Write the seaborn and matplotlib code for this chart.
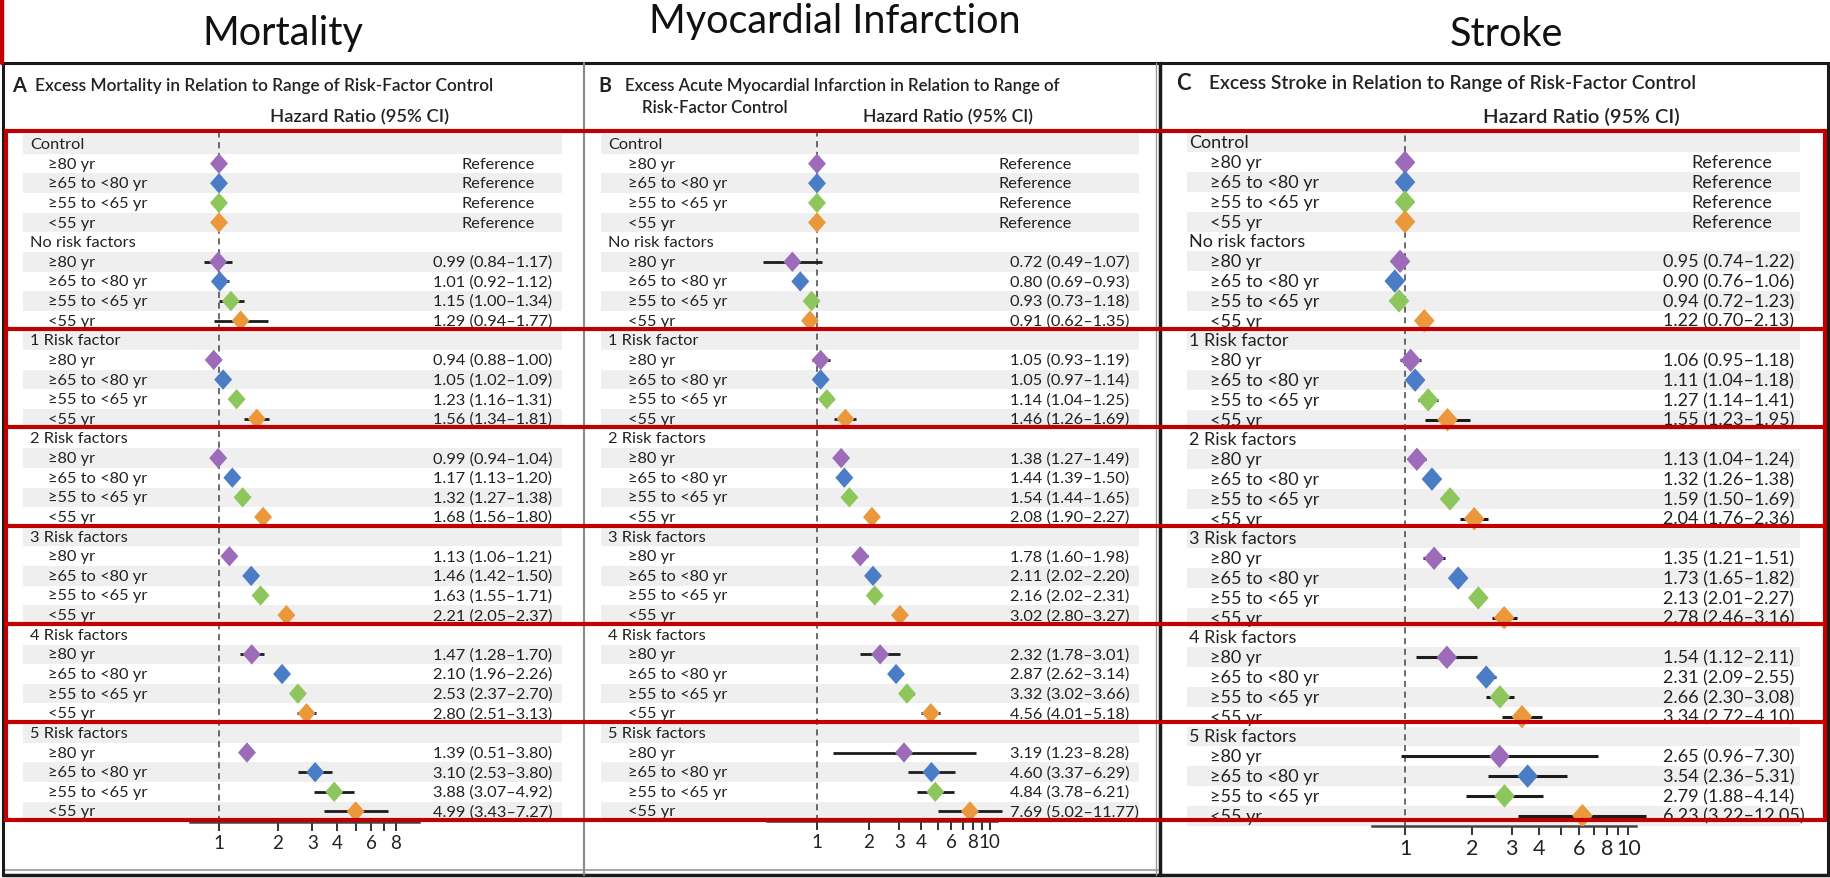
import numpy as np
import pandas as pd
import matplotlib
matplotlib.use("Agg")
import matplotlib.pyplot as plt
from matplotlib.patches import Rectangle
from matplotlib.path import Path
from matplotlib.ticker import FixedLocator, FixedFormatter, NullLocator
import seaborn as sns

sns.set_theme(style="white")
plt.rcParams["font.family"] = ["Lato", "DejaVu Sans"]

# ---------------- data ----------------
groups = ["Control", "No risk factors", "1 Risk factor", "2 Risk factors",
          "3 Risk factors", "4 Risk factors", "5 Risk factors"]
ages = ["≥80 yr", "≥65 to <80 yr", "≥55 to <65 yr", "<55 yr"]
age_colors = ["#9c6bb9", "#4b7dc6", "#8dc65b", "#eb983d"]

panel_titles = ["Mortality", "Myocardial Infarction", "Stroke"]
panel_letters = ["A", "B", "C"]
panel_headers = [["Excess Mortality in Relation to Range of Risk-Factor Control"],
                 ["Excess Acute Myocardial Infarction in Relation to Range of", "Risk-Factor Control"],
                 ["Excess Stroke in Relation to Range of Risk-Factor Control"]]
hr_header = "Hazard Ratio (95% CI)"
reference_label = "Reference"

# rows: No risk factors, 1..5 risk factors ; columns: ages
mort_hr = [[0.99, 1.01, 1.15, 1.29], [0.94, 1.05, 1.23, 1.56], [0.99, 1.17, 1.32, 1.68],
           [1.13, 1.46, 1.63, 2.21], [1.47, 2.10, 2.53, 2.80], [1.39, 3.10, 3.88, 4.99]]
mort_lo = [[0.84, 0.92, 1.00, 0.94], [0.88, 1.02, 1.16, 1.34], [0.94, 1.13, 1.27, 1.56],
           [1.06, 1.42, 1.55, 2.05], [1.28, 1.96, 2.37, 2.51], [0.51, 2.53, 3.07, 3.43]]
mort_hi = [[1.17, 1.12, 1.34, 1.77], [1.00, 1.09, 1.31, 1.81], [1.04, 1.20, 1.38, 1.80],
           [1.21, 1.50, 1.71, 2.37], [1.70, 2.26, 2.70, 3.13], [3.80, 3.80, 4.92, 7.27]]

mi_hr = [[0.72, 0.80, 0.93, 0.91], [1.05, 1.05, 1.14, 1.46], [1.38, 1.44, 1.54, 2.08],
         [1.78, 2.11, 2.16, 3.02], [2.32, 2.87, 3.32, 4.56], [3.19, 4.60, 4.84, 7.69]]
mi_lo = [[0.49, 0.69, 0.73, 0.62], [0.93, 0.97, 1.04, 1.26], [1.27, 1.39, 1.44, 1.90],
         [1.60, 2.02, 2.02, 2.80], [1.78, 2.62, 3.02, 4.01], [1.23, 3.37, 3.78, 5.02]]
mi_hi = [[1.07, 0.93, 1.18, 1.35], [1.19, 1.14, 1.25, 1.69], [1.49, 1.50, 1.65, 2.27],
         [1.98, 2.20, 2.31, 3.27], [3.01, 3.14, 3.66, 5.18], [8.28, 6.29, 6.21, 11.77]]

stroke_hr = [[0.95, 0.90, 0.94, 1.22], [1.06, 1.11, 1.27, 1.55], [1.13, 1.32, 1.59, 2.04],
             [1.35, 1.73, 2.13, 2.78], [1.54, 2.31, 2.66, 3.34], [2.65, 3.54, 2.79, 6.23]]
stroke_lo = [[0.74, 0.76, 0.72, 0.70], [0.95, 1.04, 1.14, 1.23], [1.04, 1.26, 1.50, 1.76],
             [1.21, 1.65, 2.01, 2.46], [1.12, 2.09, 2.30, 2.72], [0.96, 2.36, 1.88, 3.22]]
stroke_hi = [[1.22, 1.06, 1.23, 2.13], [1.18, 1.18, 1.41, 1.95], [1.24, 1.38, 1.69, 2.36],
             [1.51, 1.82, 2.27, 3.16], [2.11, 2.55, 3.08, 4.10], [7.30, 5.31, 4.14, 12.05]]

# error bars that are not drawn in the original figure (group index, age index)
mort_hidden_ci = [(5, 0)]
mi_hidden_ci = [(0, 1), (0, 2), (0, 3)]
stroke_hidden_ci = [(0, 0), (0, 1), (0, 2), (0, 3)]

ticks_a = [1, 2, 3, 4, 5, 6, 7, 8]
ticks_bc = [1, 2, 3, 4, 5, 6, 7, 8, 9, 10]
tick_labels_a = ["1", "2", "3", "4", "", "6", "", "8"]
tick_labels_bc = ["1", "2", "3", "4", "", "6", "", "8", "", "10"]

# ---------------- layout (pixels) ----------------
W, H = 1831, 879
fig = plt.figure(figsize=(W / 100, H / 100), dpi=100)
TXT = "#222222"
RED = "#c00000"

bg = fig.add_axes([0, 0, 1, 1], zorder=0)
bg.set_xlim(0, W); bg.set_ylim(H, 0); bg.axis("off")
fg = fig.add_axes([0, 0, 1, 1], zorder=5)
fg.set_xlim(0, W); fg.set_ylim(H, 0); fg.axis("off"); fg.patch.set_alpha(0)

RED_TOP = 132

panels = [
    dict(x1=219, ppl=85, line=(190, 419), axpx=(150, 430), axis_y=823, y0=145.0, dy=19.63,
         band=(23, 562), gx=30, agex=48, cix=433, refx=535, fs=11.8, tfs=13.5, s=215, elw=2.0,
         ticks=ticks_a, tlabels=tick_labels_a, letter_xy=(12, 86), head_xy=[(35, 86)], head_fs=12.4,
         hr_fs=13.2, hr_xy=(360, 117), title_xy=(283, 33)),
    dict(x1=817, ppl=75, line=(767, 997), axpx=(740, 1012), axis_y=822, y0=145.0, dy=19.63,
         band=(601, 1139), gx=608, agex=628, cix=1010, refx=1072, fs=11.8, tfs=13.5, s=215, elw=2.0,
         ticks=ticks_bc, tlabels=tick_labels_bc, letter_xy=(598, 86), head_xy=[(625, 86), (642, 108)],
         head_fs=12.1, hr_fs=12.6, hr_xy=(948, 117), title_xy=(835, 21)),
    dict(x1=1405, ppl=97, line=(1372, 1636), axpx=(1340, 1662), axis_y=827, y0=143.5, dy=19.8,
         band=(1187, 1800), gx=1189, agex=1210, cix=1663, refx=1772, fs=13, tfs=15.5, s=285, elw=2.2,
         ticks=ticks_bc, tlabels=tick_labels_bc, letter_xy=(1176, 84), head_xy=[(1209, 84)],
         head_fs=13.9, hr_fs=14.6, hr_xy=(1581, 117), title_xy=(1506, 35)),
]
data = [(mort_hr, mort_lo, mort_hi, mort_hidden_ci),
        (mi_hr, mi_lo, mi_hi, mi_hidden_ci),
        (stroke_hr, stroke_lo, stroke_hi, stroke_hidden_ci)]

diamond = Path([(0, 1), (0.88, 0), (0, -1), (-0.88, 0), (0, 1)], closed=True)
palette = dict(zip(ages, age_colors))

for p, (hr, lo, hi, hidden), title, letter, header in zip(panels, data, panel_titles,
                                                          panel_letters, panel_headers):
    y0, dy = p["y0"], p["dy"]
    # row bands
    for i in range(35):
        if i % 2 == 0:
            bg.add_patch(Rectangle((p["band"][0], y0 + i * dy - dy / 2), p["band"][1] - p["band"][0],
                                   dy, facecolor="#efefef", lw=0, zorder=0))
    recs = []
    for g, gname in enumerate(groups):
        grow = 5 * g
        bg.text(p["gx"], y0 + grow * dy, gname, fontsize=p["fs"], color=TXT, va="center", ha="left")
        for a, aname in enumerate(ages):
            r = grow + 1 + a
            bg.text(p["agex"], y0 + r * dy, aname, fontsize=p["fs"], color=TXT, va="center", ha="left")
            if g == 0:
                recs.append(dict(row=r, age=aname, hr=1.0, lo=np.nan, hi=np.nan))
                bg.text(p["refx"], y0 + r * dy, reference_label, fontsize=p["fs"], color=TXT,
                        va="center", ha="right")
            else:
                h, l, u = hr[g - 1][a], lo[g - 1][a], hi[g - 1][a]
                show = (g - 1, a) not in hidden
                recs.append(dict(row=r, age=aname, hr=h, lo=l if show else np.nan,
                                 hi=u if show else np.nan))
                bg.text(p["cix"], y0 + r * dy, f"{h:.2f} ({l:.2f}–{u:.2f})", fontsize=p["fs"],
                        color=TXT, va="center", ha="left")
    df = pd.DataFrame(recs)

    # data axes
    L, R = p["axpx"]
    top, bot = RED_TOP, p["axis_y"]
    ax = fig.add_axes([L / W, 1 - bot / H, (R - L) / W, (bot - top) / H], zorder=2)
    ax.patch.set_alpha(0)
    ax.set_xscale("log")
    x1, ppl = p["x1"], p["ppl"]
    ax.set_xlim(np.exp((L - x1) / ppl), np.exp((R - x1) / ppl))
    ax.set_ylim((bot - y0) / dy, (top - y0) / dy)
    ax.axvline(1, color="#444444", lw=1.1, ls=(0, (4, 3)), zorder=1)
    ci = df.dropna(subset=["lo"])
    ax.hlines(ci["row"], ci["lo"], ci["hi"], color="#1c1c1c", lw=p["elw"], zorder=2)
    sns.scatterplot(data=df, x="hr", y="row", hue="age", palette=palette, marker=diamond,
                    s=p["s"], linewidth=0, legend=False, ax=ax, zorder=3)
    for sp in ["top", "left", "right"]:
        ax.spines[sp].set_visible(False)
    ax.spines["bottom"].set_color("#444444")
    ax.spines["bottom"].set_linewidth(1.8)
    ax.spines["bottom"].set_bounds(np.exp((p["line"][0] - x1) / ppl), np.exp((p["line"][1] - x1) / ppl))
    ax.xaxis.set_major_locator(FixedLocator(p["ticks"]))
    ax.xaxis.set_major_formatter(FixedFormatter(p["tlabels"]))
    ax.xaxis.set_minor_locator(NullLocator())
    ax.tick_params(axis="x", which="major", bottom=True, direction="out", length=6.5, width=1.4,
                   color="#333333", labelsize=p["tfs"], labelcolor=TXT, pad=2.5)
    ax.set_yticks([])
    ax.set_xlabel(""); ax.set_ylabel("")

    # headers
    bg.text(*p["letter_xy"], letter, fontsize=p["head_fs"] + 2, fontweight="bold", color=TXT,
            va="center", ha="left")
    for (hx, hy), line in zip(p["head_xy"], header):
        bg.text(hx, hy, line, fontsize=p["head_fs"], fontweight="semibold",
                color=TXT, va="center", ha="left")
    bg.text(*p["hr_xy"], hr_header, fontsize=p["hr_fs"], fontweight="semibold", color=TXT,
            va="center", ha="center")
    bg.text(*p["title_xy"], title, fontsize=28.5, color="#111111", va="center", ha="center")

# panel borders
bg.plot([3, 1829], [64, 64], color="#1a1a1a", lw=2.2)
bg.plot([3, 1829], [876, 876], color="#1a1a1a", lw=2.5)
bg.plot([3, 1158], [871, 871], color="#999999", lw=1.2)
bg.plot([3, 3], [64, 876], color="#1a1a1a", lw=2.2)
bg.plot([1828, 1828], [64, 876], color="#1a1a1a", lw=2.2)
bg.plot([584, 584], [64, 876], color="#8a8a8a", lw=1.5)
bg.plot([1160, 1160], [64, 876], color="#1a1a1a", lw=2.5)
bg.plot([1156, 1156], [64, 876], color="#999999", lw=1.0)
fg.plot([2, 2], [0, 64], color=RED, lw=3.2)

# red group boxes
bounds = [RED_TOP, 330, 428, 527, 625, 723, 821]
fg.add_patch(Rectangle((6, bounds[0]), 1819, bounds[-1] - bounds[0], fill=False, edgecolor=RED, lw=3.0))
for b in bounds[1:-1]:
    fg.plot([6, 1825], [b, b], color=RED, lw=3.0)

fig.savefig("out.png", dpi=100)
